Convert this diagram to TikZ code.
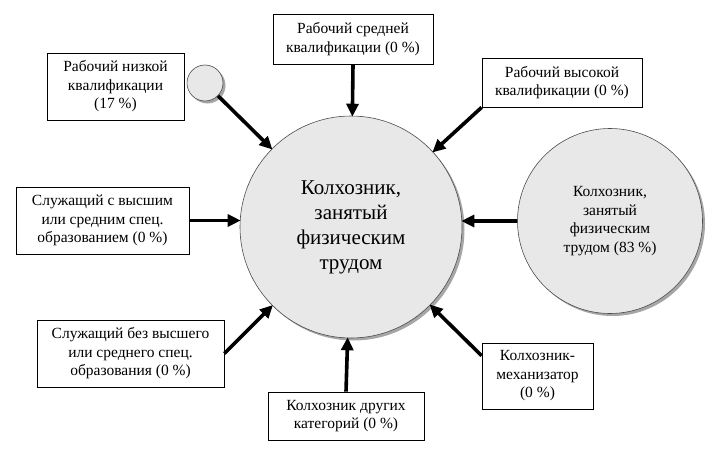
\documentclass[tikz,border=0pt]{standalone}
\usepackage{fontspec}
\setmainfont{Liberation Serif}
\usetikzlibrary{arrows.meta,shadows}
\begin{document}
\begin{tikzpicture}[x=1pt,y=-1pt,
  box/.style={draw,line width=0.8pt,align=center,inner sep=0pt,
    font=\fontsize{15.5}{18.5}\selectfont},
  bigcirc/.style={circle,draw=black!70,line width=0.6pt,fill=gray!18,
    align=center,inner sep=0pt,
    drop shadow={shadow xshift=2.5pt,shadow yshift=-2.5pt,fill=gray!70,opacity=1}},
  arr/.style={line width=3.6pt,-{Triangle[length=13pt,width=12pt]},shorten >=-1pt}]
  \useasboundingbox (0,0) rectangle (712,452);

  % Circles
  \node[bigcirc,minimum size=222pt,font=\fontsize{21}{25}\selectfont] (main) at (351,227)
    {Колхозник,\\занятый\\физическим\\трудом};
  \node[bigcirc,minimum size=185pt,font=\fontsize{15.5}{18.5}\selectfont] (rc) at (610,221)
    {Колхозник,\\занятый\\физическим\\трудом (83 \%)};
  \node[bigcirc,minimum size=36pt] (sc) at (205,83) {};

  % Boxes
  \node[box,minimum width=160pt,minimum height=50pt] (mid) at (353,39)
    {Рабочий средней\\квалификации (0 \%)};
  \node[box,minimum width=137pt,minimum height=67pt] (low) at (115.5,86.5)
    {Рабочий низкой\\квалификации\\(17 \%)};
  \node[box,minimum width=160pt,minimum height=49pt] (high) at (562,82.5)
    {Рабочий высокой\\квалификации (0 \%)};
  \node[box,minimum width=173pt,minimum height=67pt] (slA) at (102.5,220.5)
    {Служащий с высшим\\или средним спец.\\образованием (0 \%)};
  \node[box,minimum width=187pt,minimum height=67pt] (slB) at (130.5,353.5)
    {Служащий без высшего\\или среднего спец.\\образования (0 \%)};
  \node[box,minimum width=156pt,minimum height=48pt] (oth) at (346,416)
    {Колхозник других\\категорий (0 \%)};
  \node[box,minimum width=111pt,minimum height=66pt] (mech) at (537.5,376)
    {Колхозник-\\механизатор\\(0 \%)};

  % Arrows
  \draw[arr] (mid.south) -- (main);
  \draw[arr] (sc) -- (main);
  \draw[arr] (high.south west) -- (main);
  \draw[arr] (slA.east) -- (main.west |- slA.east);
  \draw[arr] (slB.east) -- (main);
  \draw[arr] (oth.north) -- (main);
  \draw[arr] (mech.160) -- (main);
  \draw[arr] (rc.west) -- (rc.west -| main.east);
\end{tikzpicture}
\end{document}
